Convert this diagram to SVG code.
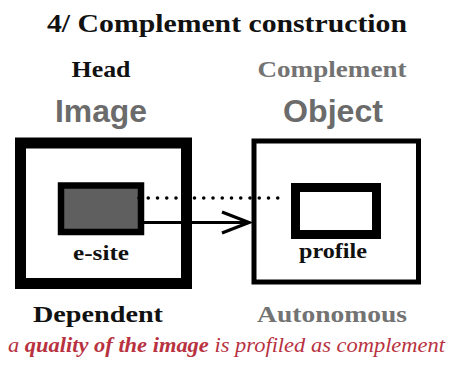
<svg xmlns="http://www.w3.org/2000/svg" width="452" height="367" viewBox="0 0 452 367">
<style>
.serif{font-family:"Liberation Serif","DejaVu Serif",serif;font-weight:bold}
.sans{font-family:"Liberation Sans",Arial,sans-serif;font-weight:bold;fill:#6b6b6b;font-size:32px}
.gray{fill:#737373}
.blk{fill:#111}
.box{fill:#fff;stroke:#000}
</style>
<rect width="452" height="367" fill="#fff"/>
<text class="serif blk" x="227" y="32" font-size="26" text-anchor="middle" textLength="360" lengthAdjust="spacingAndGlyphs">4/ Complement construction</text>
<text class="serif blk" x="101" y="77" font-size="23" text-anchor="middle" textLength="59" lengthAdjust="spacingAndGlyphs">Head</text>
<text class="serif gray" x="332" y="77" font-size="23" text-anchor="middle" textLength="149" lengthAdjust="spacingAndGlyphs">Complement</text>
<text class="sans" x="101" y="122" text-anchor="middle" textLength="92" lengthAdjust="spacingAndGlyphs">Image</text>
<text class="sans" x="333" y="122" text-anchor="middle" textLength="100" lengthAdjust="spacingAndGlyphs">Object</text>
<g id="head">
<rect class="box" x="20.5" y="143" width="166" height="140.5" stroke-width="11"/>
</g>
<g id="complement">
<rect class="box" x="254" y="141" width="164.5" height="141" stroke-width="5"/>
</g>
<g id="esite">
<rect x="61" y="185.5" width="80" height="46.5" fill="#5f5f5f" stroke="#000" stroke-width="6.5"/>
<text class="serif blk" x="101" y="260" font-size="20" text-anchor="middle" textLength="56" lengthAdjust="spacingAndGlyphs">e-site</text>
</g>
<g id="profile">
<rect class="box" x="295.5" y="187.5" width="81" height="47" stroke-width="9"/>
<text class="serif blk" x="333" y="258" font-size="20" text-anchor="middle" textLength="68" lengthAdjust="spacingAndGlyphs">profile</text>
</g>
<g id="connectors" fill="none" stroke="#000">
<line x1="139" y1="198" x2="287" y2="198" stroke-width="3.6" stroke-linecap="round" stroke-dasharray="0 9.25"/>
<line x1="144" y1="222.5" x2="248" y2="222.5" stroke-width="3"/>
<polyline points="222,212 249,222.5 222,233" stroke-width="3.2" stroke-linejoin="miter"/>
</g>
<text class="serif blk" x="98" y="322" font-size="23" text-anchor="middle" textLength="130" lengthAdjust="spacingAndGlyphs">Dependent</text>
<text class="serif gray" x="332" y="322" font-size="23" text-anchor="middle" textLength="150" lengthAdjust="spacingAndGlyphs">Autonomous</text>
<text x="226.5" y="352" font-family="Liberation Serif,DejaVu Serif,serif" font-style="italic" font-size="22" fill="#b8323f" text-anchor="middle" textLength="437" lengthAdjust="spacingAndGlyphs">a <tspan font-weight="bold">quality of the image</tspan> is profiled  as complement</text>
</svg>
